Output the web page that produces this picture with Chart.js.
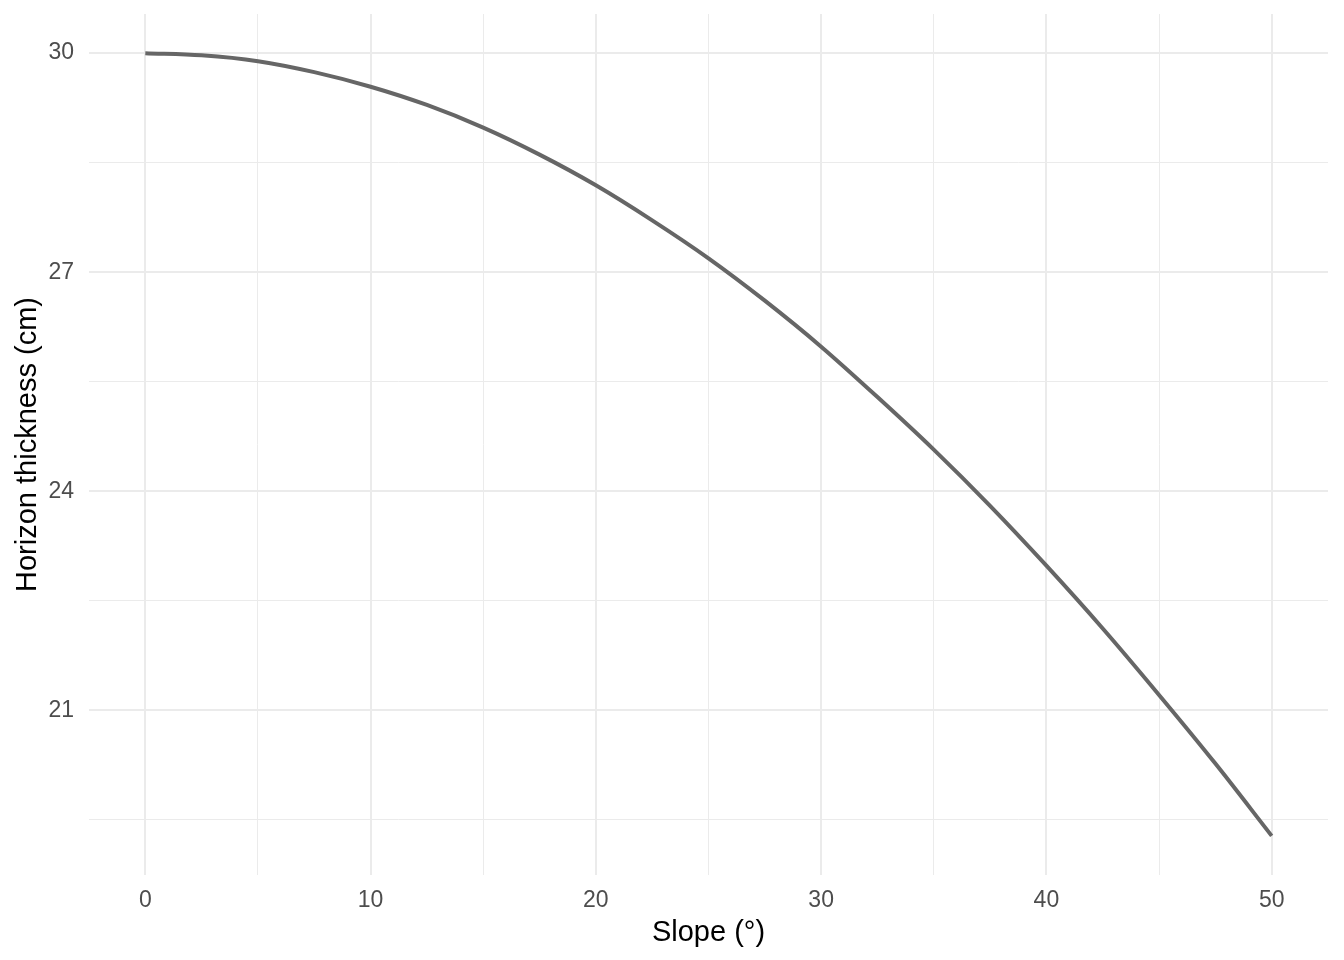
<!DOCTYPE html>
<html>
<head>
<meta charset="utf-8">
<title>Horizon thickness vs slope</title>
<script src="https://cdn.jsdelivr.net/npm/chart.js@4/dist/chart.umd.min.js"></script>
<style>
  html, body { margin: 0; padding: 0; background: #ffffff; }
  #wrap { width: 1344px; height: 960px; position: relative; }
</style>
</head>
<body>
<div id="wrap"><canvas id="chart"></canvas></div>
<script>
'use strict';

// values
const SLOPE = [0, 2.5, 5, 7.5, 10, 12.5, 15, 17.5, 20, 22.5, 25, 27.5, 30, 32.5, 35, 37.5, 40, 42.5, 45, 47.5, 50];
const THICKNESS = [30.00, 29.97, 29.89, 29.74, 29.54, 29.29, 28.98, 28.61, 28.19, 27.71, 27.19, 26.61,
  25.98, 25.29, 24.57, 23.80, 22.98, 22.12, 21.21, 20.27, 19.28];

const X_TICKS = [0, 5, 10, 15, 20, 25, 30, 35, 40, 45, 50];
const X_LABELS = [0, 10, 20, 30, 40, 50];
const Y_TICKS = [19.5, 21, 22.5, 24, 25.5, 27, 28.5, 30];
const Y_LABELS = [21, 24, 27, 30];

const X_RANGE = [-2.5, 52.5];
const Y_RANGE = [18.744, 30.536];

const FONT = "'Liberation Sans', Arial, sans-serif";
const GRID = '#ebebeb';

function isLabel(list, v) {
  return list.some((l) => Math.abs(l - v) < 1e-6);
}

const points = SLOPE.map((x, i) => ({ x, y: THICKNESS[i] }));

new Chart(document.getElementById('chart'), {
  type: 'line',
  data: {
    datasets: [{
      data: points,
      borderColor: '#666666',
      borderWidth: 4,
      pointRadius: 0,
      fill: false,
      cubicInterpolationMode: 'monotone',
    }],
  },
  options: {
    responsive: true,
    maintainAspectRatio: false,
    animation: false,
    layout: { padding: { top: 14, right: 16, left: 0, bottom: 0 } },
    plugins: {
      legend: { display: false },
      tooltip: { enabled: false },
    },
    scales: {
      x: {
        type: 'linear',
        min: X_RANGE[0],
        max: X_RANGE[1],
        afterBuildTicks: (scale) => { scale.ticks = X_TICKS.map((value) => ({ value })); },
        afterFit: (scale) => {
          scale.height = 85;
          scale.paddingLeft = 0;
          scale.paddingRight = 0;
        },
        border: { display: false },
        grid: {
          drawTicks: false,
          color: GRID,
          lineWidth: (ctx) => (ctx.tick && isLabel(X_LABELS, ctx.tick.value) ? 2 : 1),
        },
        ticks: {
          padding: 12,
          color: '#4d4d4d',
          font: { family: FONT, size: 23 },
          maxRotation: 0,
          autoSkip: false,
          callback: (v) => (isLabel(X_LABELS, v) ? String(v) : ''),
        },
        title: {
          display: true,
          text: 'Slope (°)',
          color: '#000000',
          font: { family: FONT, size: 29 },
          padding: { top: 0, bottom: 10 },
        },
      },
      y: {
        type: 'linear',
        min: Y_RANGE[0],
        max: Y_RANGE[1],
        afterBuildTicks: (scale) => { scale.ticks = Y_TICKS.map((value) => ({ value })); },
        afterFit: (scale) => {
          scale.width = 89;
          scale.paddingTop = 0;
          scale.paddingBottom = 0;
        },
        border: { display: false },
        grid: {
          drawTicks: false,
          color: GRID,
          lineWidth: (ctx) => (ctx.tick && isLabel(Y_LABELS, ctx.tick.value) ? 2 : 1),
        },
        ticks: {
          padding: 15,
          color: '#4d4d4d',
          font: { family: FONT, size: 23 },
          autoSkip: false,
          callback: (v) => (isLabel(Y_LABELS, v) ? String(v) : ''),
        },
        title: {
          display: true,
          text: 'Horizon thickness (cm)',
          color: '#000000',
          font: { family: FONT, size: 29 },
          padding: { top: 11, bottom: 0 },
        },
      },
    },
  },
});
</script>
</body>
</html>
